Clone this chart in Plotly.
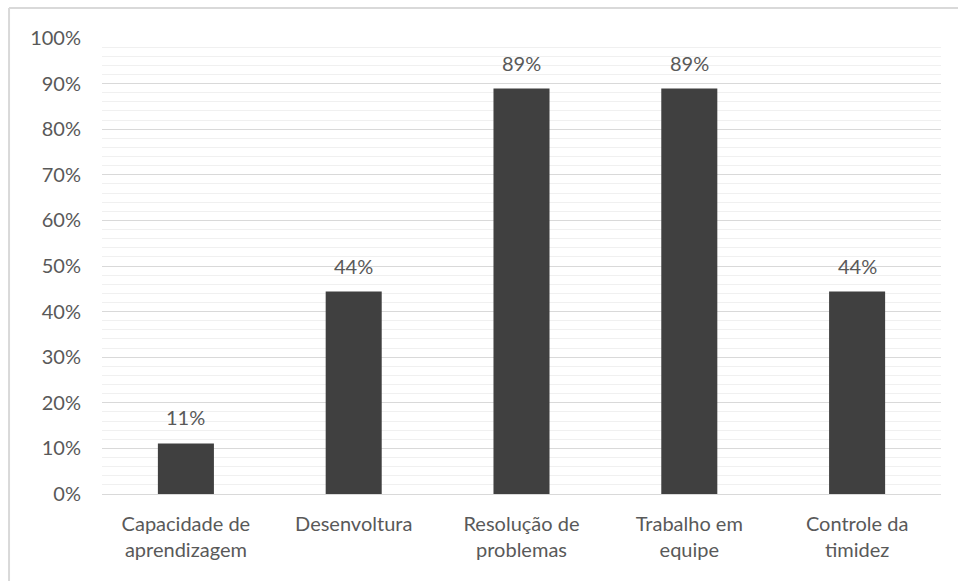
import plotly.graph_objects as go

categories = ["Capacidade de<br>aprendizagem", "Desenvoltura", "Resolução de<br>problemas",
              "Trabalho em<br>equipe", "Controle da<br>timidez"]
values = [0.111, 0.444, 0.889, 0.889, 0.444]
labels = ["11%", "44%", "89%", "89%", "44%"]
tick_vals = [i / 10 for i in range(11)]
tick_text = [f"{i*10}%" for i in range(11)]

FONT = "Lato, Open Sans, sans-serif"
TXT = "#595959"
FS = 20

fig = go.Figure()
fig.add_trace(go.Bar(x=categories, y=values, marker=dict(color="#404040", line=dict(width=0)),
                     hoverinfo="skip"))

for c, v, t in zip(categories, values, labels):
    fig.add_annotation(x=c, y=v, text=t, showarrow=False, yanchor="bottom", yshift=12,
                       font=dict(family=FONT, size=FS, color=TXT))

# outer chart border (top and left)
fig.add_shape(type="line", xref="paper", yref="paper", x0=-0.1108, x1=1.03, y0=1.0658, y1=1.0658,
              line=dict(color="#d9d9d9", width=2))
fig.add_shape(type="line", xref="paper", yref="paper", x0=-0.1108, x1=-0.1108, y0=1.0658, y1=-0.25,
              line=dict(color="#d9d9d9", width=2))

fig.update_layout(
    width=958, height=581,
    margin=dict(l=102, r=17, t=38, b=87),
    paper_bgcolor="white", plot_bgcolor="white",
    bargap=0.666,
    showlegend=False,
    font=dict(family=FONT, size=FS, color=TXT),
    xaxis=dict(showgrid=False, showline=True, linecolor="#d9d9d9", linewidth=1,
               ticks="", ticklabelstandoff=12,
               tickfont=dict(family=FONT, size=FS, color=TXT), fixedrange=True),
    yaxis=dict(range=[0, 1], tickvals=tick_vals, ticktext=tick_text,
               showgrid=True, gridcolor="#d9d9d9", gridwidth=1, zeroline=False,
               showline=False, ticks="", ticklabelstandoff=20,
               tickfont=dict(family=FONT, size=FS, color=TXT),
               minor=dict(dtick=0.02, showgrid=True, gridcolor="#f0f0f0", gridwidth=1),
               fixedrange=True),
)

fig.write_html("out.html", config={"displayModeBar": False},
               post_script="document.body.style.margin='0';document.body.style.overflow='hidden';")
